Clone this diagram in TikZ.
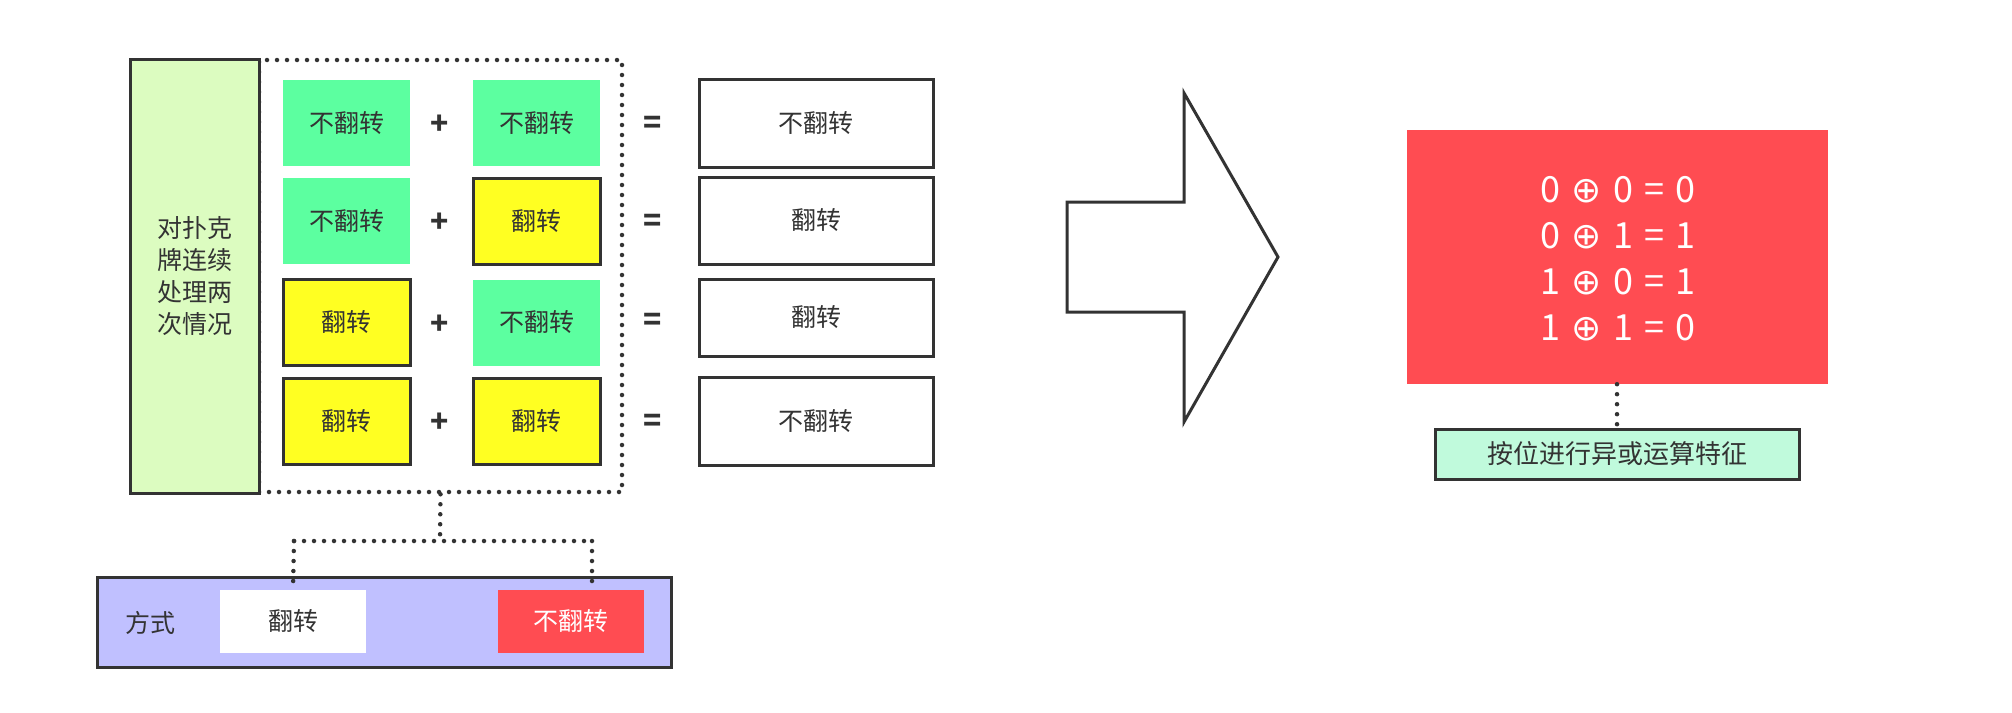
\documentclass[tikz,border=0pt]{standalone}
\usepackage{fontspec}
\setmainfont{Noto Sans CJK SC}
\newfontfamily\symf{DejaVu Sans}
\usetikzlibrary{positioning}
\definecolor{dark}{HTML}{333333}
\definecolor{leftgreen}{HTML}{DCFCC0}
\definecolor{cellgreen}{HTML}{5CFFA0}
\definecolor{cellyellow}{HTML}{FFFF22}
\definecolor{redfill}{HTML}{FF4C52}
\definecolor{purplefill}{HTML}{C0C0FF}
\definecolor{mintfill}{HTML}{C0FADC}
\newcommand{\xs}{\hspace{11pt}}
\newcommand{\xo}{{\symf ⊕}}
\tikzset{
  txt/.style={text=dark, font=\fontsize{25}{30}\selectfont},
  cellbase/.style={txt, minimum width=127pt, minimum height=86pt, inner sep=0pt},
  greencell/.style={cellbase, fill=cellgreen},
  yellowcell/.style={cellbase, fill=cellyellow, draw=dark, line width=3pt},
  resbox/.style={txt, fill=white, draw=dark, line width=3pt, minimum width=234pt, inner sep=0pt},
  opsign/.style={text=dark, font=\fontsize{30}{30}\selectfont\bfseries, inner sep=0pt},
  dotline/.style={draw=dark, line width=4.5pt, line cap=round, dash pattern=on 0pt off 10pt},
  thickbox/.style={draw=dark, line width=3pt},
}
\begin{document}
\begin{tikzpicture}[x=1pt,y=-1pt]
\useasboundingbox[fill=white] (0,0) rectangle (2012,712);

% dotted group box
\node[dotline, minimum width=363pt, minimum height=432pt, inner sep=0pt] (grp) at (440.5,276) {};

% left label box
\node[thickbox, fill=leftgreen, minimum width=129pt, minimum height=434pt, inner sep=0pt,
      txt, align=center, font=\fontsize{25}{32}\selectfont] (left) at (194.5,276) {对扑克\\牌连续\\处理两\\次情况};

% row 1
\node[greencell] (a1) at (346.5,123) {不翻转};
\node[opsign] (p1) at (440,125) {+};
\node[greencell] (b1) at (536.5,123) {不翻转};
\node[opsign] (e1) at (653,125) {=};
\node[resbox, minimum height=88pt] (r1) at (816,123) {不翻转};
% row 2
\node[greencell] (a2) at (346.5,221) {不翻转};
\node[opsign] (p2) at (440,223) {+};
\node[yellowcell] (b2) at (536.5,221) {翻转};
\node[opsign] (e2) at (653,223) {=};
\node[resbox, minimum height=87pt] (r2) at (816,220.5) {翻转};
% row 3
\node[yellowcell] (a3) at (346.5,322.5) {翻转};
\node[opsign] (p3) at (440,325) {+};
\node[greencell] (b3) at (536.5,322.5) {不翻转};
\node[opsign] (e3) at (653,322) {=};
\node[resbox, minimum height=77pt] (r3) at (816,317.5) {翻转};
% row 4
\node[yellowcell] (a4) at (346.5,421) {翻转};
\node[opsign] (p4) at (440,423) {+};
\node[yellowcell] (b4) at (536.5,421) {翻转};
\node[opsign] (e4) at (653,423) {=};
\node[resbox, minimum height=88pt] (r4) at (816,421) {不翻转};

% bottom "方式" box
\node[thickbox, fill=purplefill, minimum width=574pt, minimum height=90pt, inner sep=0pt] (way) at (384,622) {};
\node[txt] (waylbl) at (150,623) {方式};
\node[cellbase, fill=white, minimum width=146pt, minimum height=63pt] (flip) at (293,621.5) {翻转};
\node[cellbase, fill=redfill, text=white, minimum width=146pt, minimum height=63pt] (noflip) at (571,621.5) {不翻转};

% dotted connectors
\coordinate (j1) at (440,541);
\coordinate (jl) at (294,541);
\coordinate (jr) at (592,541);
\coordinate (er) at (592,587);
\draw[dotline] (grp.south) -- (j1);
\draw[dotline] (jl) -- (jr);
\draw[dotline] (jl) -- (flip.north);
\draw[dotline] (jr) -- (er);

% big arrow
\draw[draw=dark, line width=3pt, line join=miter, fill=white]
  (1067,202) coordinate (arrA) -- (1184,202) -- (1184,93) -- (1278,257) coordinate (arrTip)
  -- (1184,422) -- (1184,312) -- (1067,312) -- cycle;

% XOR box
\node[fill=redfill, minimum width=421pt, minimum height=254pt, inner sep=0pt] (xor) at (1617.5,257) {};
\node[text=white, align=center, font=\fontsize{36}{46}\selectfont] (xortxt) at (1618,259)
  {0\xs\xo\xs0\xs=\xs0\\0\xs\xo\xs1\xs=\xs1\\1\xs\xo\xs0\xs=\xs1\\1\xs\xo\xs1\xs=\xs0};
\node[thickbox, fill=mintfill, minimum width=364pt, minimum height=50pt, inner sep=0pt, txt,
      font=\fontsize{26}{30}\selectfont] (feat) at (1617,454) {按位进行异或运算特征};
\draw[dotline] (xor.south -| feat.north) -- (feat.north);
\end{tikzpicture}
\end{document}
